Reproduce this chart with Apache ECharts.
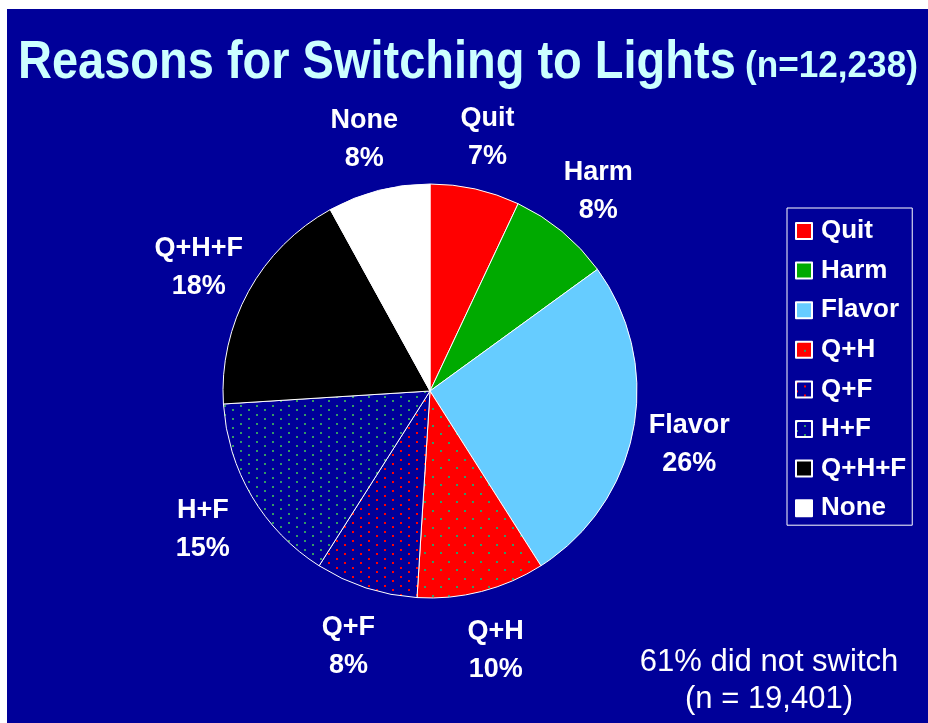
<!DOCTYPE html>
<html><head><meta charset="utf-8">
<script src="https://cdn.jsdelivr.net/npm/echarts@6/dist/echarts.min.js"></script>
<style>
html,body{margin:0;padding:0;background:#fff;}
#bg{position:absolute;left:7px;top:9px;width:921px;height:714px;background:#000099;}
#chart{position:absolute;left:0;top:0;width:928px;height:723px;}
</style></head><body>
<div id="bg"></div><div id="chart"></div>
<script>
const categories = ['Quit', 'Harm', 'Flavor', 'Q+H', 'Q+F', 'H+F', 'Q+H+F', 'None'];
const values = [7, 8, 26, 10, 8, 15, 18, 8];
const titleMain = 'Reasons for Switching to Lights';
const titleSub = '(n=12,238)';
const noteLines = ['61% did not switch', '(n = 19,401)'];

const BLUE = '#000099';
const FONT = '"Liberation Sans", Arial, sans-serif';
function dotPattern(bg, dot, w, h, dots, size) {
  const c = document.createElement('canvas');
  c.width = w; c.height = h;
  const g = c.getContext('2d');
  g.fillStyle = bg; g.fillRect(0, 0, w, h);
  g.fillStyle = dot;
  dots.forEach(d => g.fillRect(d[0], d[1], size, size));
  return { image: c, repeat: 'repeat' };
}
const colors = [
  '#ff0000', '#00aa00', '#66ccff',
  dotPattern('#ff0000', '#339966', 16, 17, [[0, 0], [8, 8]], 2),
  dotPattern(BLUE, '#ff0000', 16, 9, [[0, 0], [8, 4]], 2),
  dotPattern(BLUE, '#339966', 16, 9, [[0, 0], [8, 4]], 2),
  '#000000', '#ffffff'
];

const chart = echarts.init(document.getElementById('chart'));
chart.setOption({
  animation: false,
  backgroundColor: 'transparent',
  legend: {
    orient: 'vertical', left: 787, top: 208,
    data: categories, selectedMode: false, icon: 'rect',
    itemWidth: 16, itemHeight: 16, itemGap: 13.6,
    borderColor: '#ffffff', borderWidth: 1,
    padding: [10, 6, 4, 8],
    textStyle: { color: '#ffffff', fontSize: 26, fontWeight: 'bold', fontFamily: FONT, lineHeight: 26, padding: [0, 0, 0, 4] }
  },
  graphic: [
    { type: 'text', x: 18, y: 63, scaleX: 0.87, style: { text: titleMain, fill: '#ccffff', font: 'bold 54px ' + FONT, textAlign: 'left', textVerticalAlign: 'middle' } },
    { type: 'text', x: 745, y: 67, scaleX: 0.95, style: { text: titleSub, fill: '#ccffff', font: 'bold 37px ' + FONT, textAlign: 'left', textVerticalAlign: 'middle' } },
    { type: 'text', x: 769, y: 681, style: { text: noteLines.join('\n'), fill: '#ffffff', font: '31px ' + FONT, lineHeight: 37, textAlign: 'center', textVerticalAlign: 'middle' } }
  ],
  series: [
    {
      type: 'pie', center: [430, 391], radius: 207, startAngle: 90, clockwise: true,
      label: { show: false }, labelLine: { show: false },
      emphasis: { disabled: true },
      itemStyle: { borderColor: '#ffffff', borderWidth: 1 },
      data: categories.map((n, i) => ({ name: n, value: values[i], itemStyle: { color: colors[i] } }))
    },
    {
      type: 'pie', center: [430, 395], radius: [251, 271], startAngle: 90, clockwise: true,
      silent: true, emphasis: { disabled: true }, avoidLabelOverlap: false,
      itemStyle: { color: 'rgba(0,0,0,0)', borderWidth: 0 },
      labelLine: { show: false },
      label: {
        show: true, position: 'inside', color: '#ffffff', fontSize: 27, fontWeight: 'bold',
        fontFamily: FONT, lineHeight: 38,
        formatter: p => categories[p.dataIndex] + '\n' + values[p.dataIndex] + '%'
      },
      data: values.map((v, i) => ({ name: 'lbl' + i, value: v }))
    }
  ]
});
</script>
</body></html>
